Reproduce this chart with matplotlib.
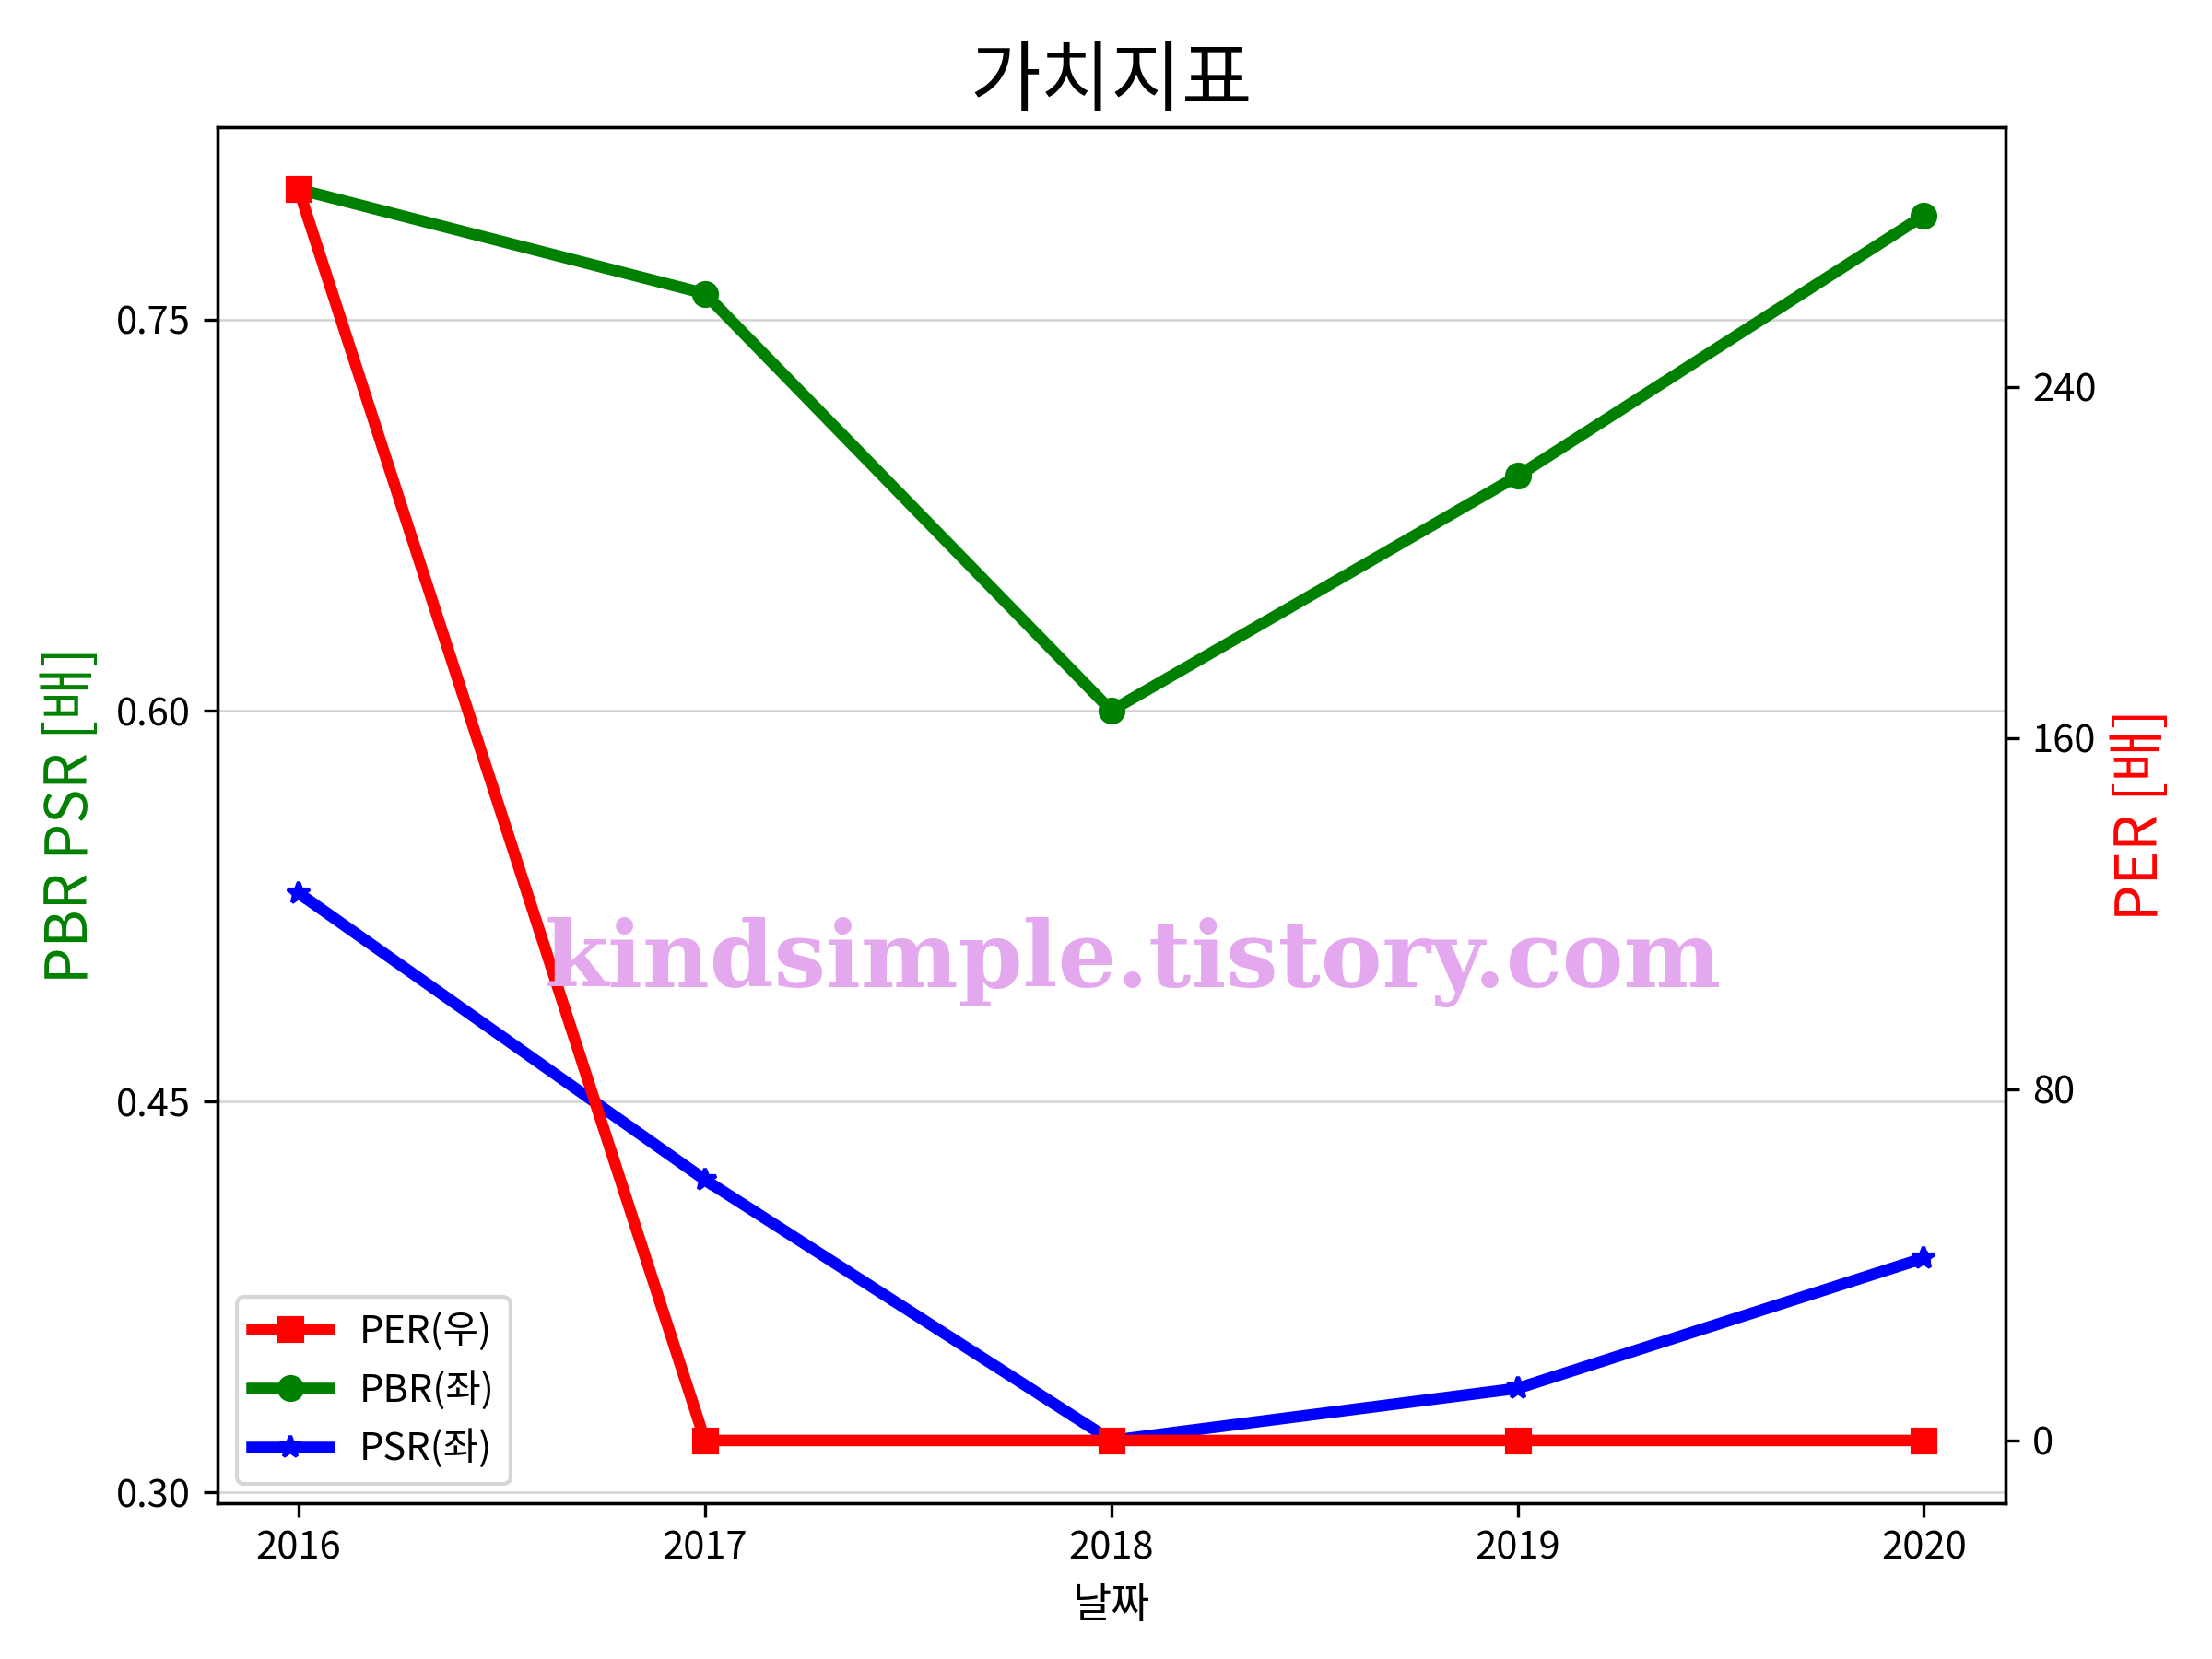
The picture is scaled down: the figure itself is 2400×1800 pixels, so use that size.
import matplotlib
matplotlib.use("Agg")
from matplotlib import pyplot as plt

plt.rcParams['font.family'] = ['Noto Sans CJK KR', 'DejaVu Sans']
plt.rcParams['axes.unicode_minus'] = False

# values
years = [2016, 2017, 2018, 2019, 2020]
per = [285.0, 0.0, 0.0, 0.0, 0.0]
pbr = [0.80, 0.76, 0.60, 0.69, 0.79]
psr = [0.53, 0.42, 0.32, 0.34, 0.39]
left_ticks = [0.30, 0.45, 0.60, 0.75]
right_ticks = [0, 80, 160, 240]

fig, ax1 = plt.subplots(figsize=(8, 6), dpi=300)
ax2 = ax1.twinx()

l_per, = ax2.plot(years, per, c='red', marker='s', lw=3, label='PER(우)')
l_pbr, = ax1.plot(years, pbr, c='green', marker='o', lw=3, label='PBR(좌)')
l_psr, = ax1.plot(years, psr, c='blue', marker='*', lw=3, label='PSR(좌)')

ax1.set_yticks(left_ticks)
ax1.set_yticklabels(["{:.2f}".format(v) for v in left_ticks])
ax2.set_yticks(right_ticks)
ax1.set_xticks(years)
ax1.grid(axis='y', color='#d3d3d3', lw=0.6)

ax1.set_xlabel("날짜", fontsize=11)
ax1.set_ylabel("PBR PSR [배]", color='green', fontsize=15)
ax2.set_ylabel("PER [배]", color='red', fontsize=15)
ax1.set_title("가치지표", fontsize=20)

ax1.legend([l_per, l_pbr, l_psr], [l.get_label() for l in (l_per, l_pbr, l_psr)],
           loc='lower left', fontsize=10)

fig.tight_layout()
fig.subplots_adjust(bottom=0.094)
fig.text(0.512, 0.42, "kindsimple.tistory.com", ha='center', va='center',
         fontsize=24, fontweight='bold', family='DejaVu Serif', color='#E4A8EE')

plt.savefig("out.png")
